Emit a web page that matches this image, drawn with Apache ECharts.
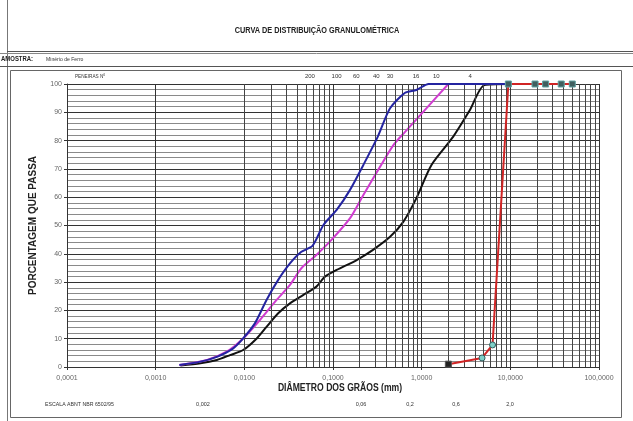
<!DOCTYPE html>
<html><head><meta charset="utf-8">
<script src="https://cdn.jsdelivr.net/npm/echarts@6/dist/echarts.min.js"></script>
<style>html,body{margin:0;padding:0;background:#fff}#c{width:633px;height:421px}</style>
</head><body><div id="c"></div>
<script>
// ---- data (diameter mm, % passing) ----
const blueD = [0.00185, 0.0032, 0.0049, 0.0075, 0.0097, 0.0132, 0.0178, 0.024, 0.0327, 0.044, 0.059, 0.078, 0.11, 0.155, 0.22, 0.32, 0.44, 0.65, 0.87, 1.2, 2.0, 4.8, 9.5];
const blueP = [0.7, 1.9, 3.6, 6.6, 10.1, 15.5, 23.7, 30.7, 36.6, 40.7, 42.9, 50.2, 55.5, 62.5, 71.4, 81.4, 91.4, 96.9, 97.9, 100, 100, 100, 100];
const magD = [0.00185, 0.0038, 0.0063, 0.0097, 0.015, 0.0231, 0.0327, 0.044, 0.065, 0.096, 0.155, 0.22, 0.34, 0.48, 0.65, 1.13, 2.0];
const magP = [0.7, 2.5, 5.4, 10.1, 16.6, 23.7, 29.0, 34.9, 39.6, 44.9, 52.5, 60.8, 70.8, 78.4, 83.1, 91.4, 100];
const blackD = [0.0019, 0.0032, 0.0049, 0.0069, 0.0097, 0.0138, 0.0178, 0.0241, 0.0327, 0.046, 0.065, 0.081, 0.11, 0.185, 0.28, 0.44, 0.62, 0.87, 1.29, 2.27, 3.5, 5.1, 9.5];
const blackP = [0.5, 1.3, 2.5, 4.2, 6.0, 10.1, 14.2, 19.0, 22.5, 25.4, 28.4, 31.9, 34.3, 37.8, 41.3, 46.0, 51.3, 59.6, 71.4, 81.4, 90.8, 99.6, 100];
const redD = [2.0, 4.8, 6.3, 9.5, 19, 25, 37.5, 50];
const redP = [1.0, 3.2, 7.8, 100, 100, 100, 100, 100];

const sieveNames = ['200', '100', '60', '40', '30', '16', '10', '4'];
const sieveSizes = [0.075, 0.15, 0.25, 0.42, 0.6, 1.18, 2.0, 4.8];
const abntLabels = ['0,002', '0,06', '0,2', '0,6', '2,0'];
const abntLabelX = [203, 361, 410, 456, 510];

const title = 'CURVA DE DISTRIBUIÇÃO GRANULOMÉTRICA';
const sampleLabel = 'AMOSTRA:';
const sampleName = 'Minério de Ferro';

// ---- chart ----
const chart = echarts.init(document.getElementById('c'), null, {renderer: 'canvas'});
const minorX = [];
for (let e = -4; e < 2; e++) for (let m = 2; m <= 9; m++) minorX.push(+(m * Math.pow(10, e)).toPrecision(3));

const pairs = (xs, ys) => xs.map((x, i) => [x, ys[i]]);
const redData = redD.map((d, i) => {
  const p = redP[i];
  let st;
  if (i === 0) st = {symbol: 'rect', symbolSize: 6, itemStyle: {color: '#222', borderColor: '#555', borderWidth: 1}};
  else if (p < 100) st = {symbol: 'circle', symbolSize: 6, itemStyle: {color: '#7fd0c8', borderColor: '#2f5f5f', borderWidth: 1}};
  else st = {symbol: 'rect', symbolSize: 6, itemStyle: {color: '#3f5f5f', borderColor: '#5fa0a0', borderWidth: 1}};
  return Object.assign({value: [d, p]}, st);
});

const FA = 'Liberation Sans, Arial, sans-serif';

const option = {
  animation: false,
  backgroundColor: '#fff',
  grid: {left: 67, right: 34, top: 84, bottom: 54, containLabel: false},
  xAxis: {
    type: 'log', logBase: 10, min: 0.0001, max: 100, splitNumber: 6,
    axisLine: {show: true, onZero: false, lineStyle: {color: '#333', width: 1}},
    axisTick: {show: true, length: 3, lineStyle: {color: '#333'}},
    axisLabel: {fontSize: 7, color: '#666', fontFamily: FA, margin: 8,
      formatter: v => v.toFixed(4).replace('.', ',')},
    splitLine: {show: true, lineStyle: {color: '#333', width: 1}}
  },
  yAxis: {
    type: 'value', min: 0, max: 100, interval: 10,
    name: 'PORCENTAGEM QUE PASSA', nameLocation: 'middle', nameGap: 29, nameRotate: 90,
    nameTextStyle: {fontSize: 10, fontWeight: 'bold', color: '#222', fontFamily: FA},
    axisLine: {show: true, lineStyle: {color: '#333'}},
    axisTick: {show: true, length: 3, lineStyle: {color: '#333'}},
    axisLabel: {fontSize: 7, color: '#666', fontFamily: FA, margin: 5},
    splitLine: {show: true, lineStyle: {color: '#333', width: 1}},
    minorTick: {show: false, splitNumber: 5},
    minorSplitLine: {show: true, lineStyle: {color: '#8a8a8a', width: 1}}
  },
  series: [
    {type: 'line', data: [], silent: true,
      markLine: {silent: true, symbol: 'none', label: {show: false}, animation: false,
        lineStyle: {color: '#444', width: 1, type: 'solid'},
        data: minorX.map(v => ({xAxis: v}))}},
    {name: 'black', type: 'line', data: pairs(blackD, blackP), showSymbol: false, smooth: 0.25,
      lineStyle: {color: '#111', width: 2}, z: 3},
    {name: 'magenta', type: 'line', data: pairs(magD, magP), showSymbol: false, smooth: 0.25,
      lineStyle: {color: '#d03cd0', width: 2}, z: 4},
    {name: 'blue', type: 'line', data: pairs(blueD, blueP), showSymbol: false, smooth: 0.25,
      lineStyle: {color: '#2424a0', width: 2}, z: 5},
    {name: 'red', type: 'line', data: redData, showSymbol: true,
      lineStyle: {color: '#d02424', width: 2}, z: 6}
  ]
};
chart.setOption(option);

const txt = (x, y, text, size, opts) => Object.assign({type: 'text', x: x, y: y,
  style: Object.assign({text: text, fontSize: size, fontFamily: FA, fill: '#333', verticalAlign: 'middle'}, (opts && opts.style) || {})},
  (opts && opts.el) || {});

const g = [
  {type: 'line', shape: {x1: 7.5, y1: 0, x2: 7.5, y2: 421}, style: {stroke: '#777', lineWidth: 1}},
  {type: 'line', shape: {x1: 7, y1: 51.5, x2: 633, y2: 51.5}, style: {stroke: '#555', lineWidth: 1.2}},
  {type: 'line', shape: {x1: 0, y1: 53.5, x2: 633, y2: 53.5}, style: {stroke: '#888', lineWidth: 1}},
  {type: 'line', shape: {x1: 0, y1: 66.5, x2: 633, y2: 66.5}, style: {stroke: '#555', lineWidth: 1.2}},
  {type: 'rect', shape: {x: 10.5, y: 70.5, width: 611, height: 347}, style: {fill: 'none', stroke: '#666', lineWidth: 1}},
  txt(317, 31, title, 8.5, {style: {align: 'center', fill: '#222', fontWeight: 'bold'}, el: {scaleX: 0.86}}),
  txt(1, 59.5, sampleLabel, 7, {style: {fontWeight: 'bold', fill: '#222'}, el: {scaleX: 0.85}}),
  txt(46, 59.5, sampleName, 6, {el: {scaleX: 0.85}}),
  txt(75, 76, 'PENEIRAS Nº', 5.5, {el: {scaleX: 0.85}}),
  txt(340, 388, 'DIÂMETRO DOS GRÃOS (mm)', 10, {style: {align: 'center', fill: '#222', fontWeight: 'bold'}, el: {scaleX: 0.86}}),
  txt(45, 404, 'ESCALA ABNT NBR 6502/95', 5.5, {el: {scaleX: 0.95}})
];
abntLabels.forEach((t, i) => g.push(txt(abntLabelX[i], 404, t, 5.5, {style: {align: 'center'}})));
sieveNames.forEach((t, i) => {
  const px = chart.convertToPixel({gridIndex: 0}, [sieveSizes[i], 100])[0] - 12;
  g.push(txt(px, 76, t, 6, {style: {align: 'center'}}));
});
chart.setOption({graphic: g});
</script></body></html>
